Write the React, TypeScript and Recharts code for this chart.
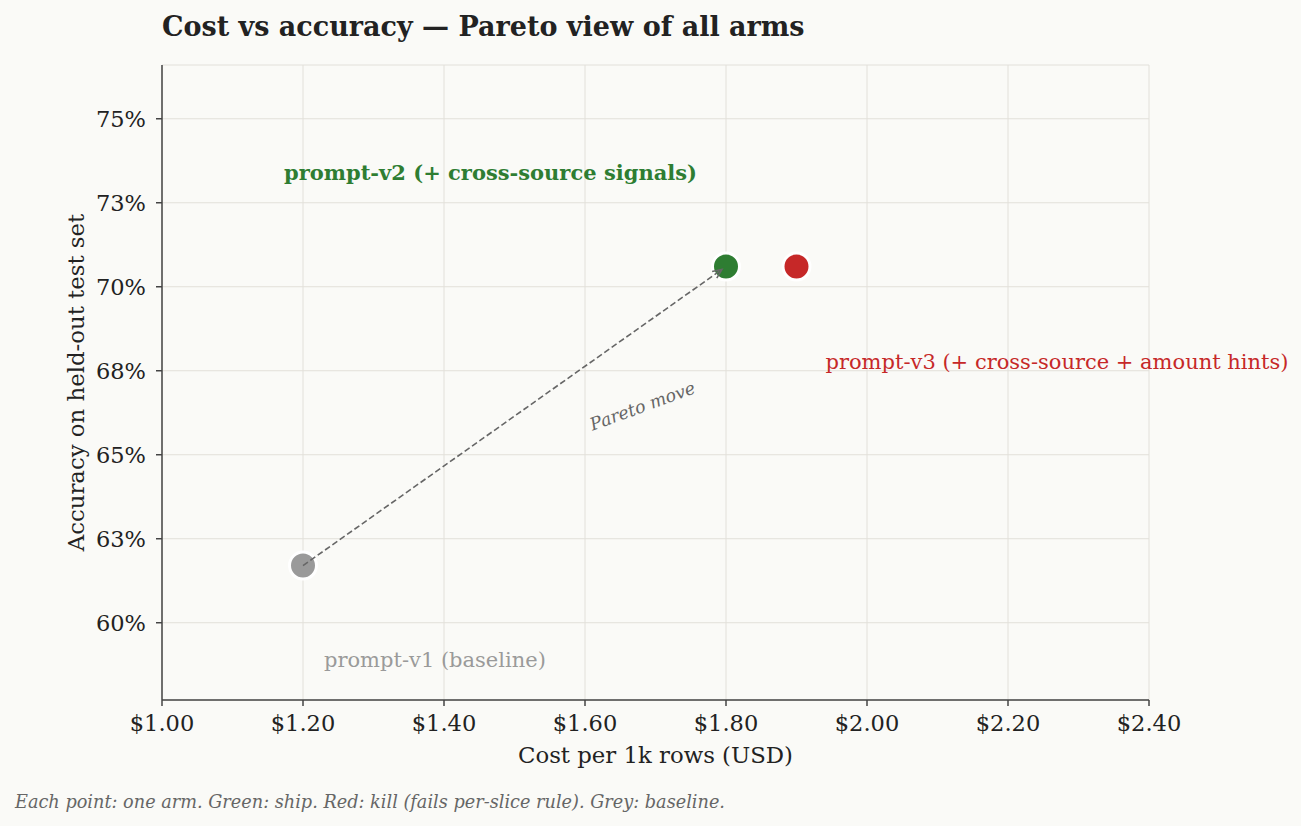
import { ScatterChart, Scatter, XAxis, YAxis, CartesianGrid, Cell, Label } from "recharts";

const ARMS = [
  "prompt-v1 (baseline)",
  "prompt-v2 (+ cross-source signals)",
  "prompt-v3 (+ cross-source + amount hints)",
];
const COST = [1.2, 1.8, 1.9];
const ACCURACY = [61.7, 70.6, 70.6];
const ARM_COLORS = ["#9a9a9a", "#2e7d32", "#c62828"];
const X_TICKS = [1.0, 1.2, 1.4, 1.6, 1.8, 2.0, 2.2, 2.4];
const Y_TICKS = [60, 62.5, 65, 67.5, 70, 72.5, 75];
// the pareto arrow goes baseline -> shipped arm
const PARETO_FROM = 0;
const PARETO_TO = 1;

const FONT = "'DejaVu Serif', serif";
const INK = "#222222";
const MUTED = "#666666";

// where each arm's name sits relative to its dot (px)
const LABEL_LAYOUT = [
  { dx: 21, dy: 94, anchor: "start", weight: "normal" },
  { dx: -29, dy: -94, anchor: "end", weight: "bold" },
  { dx: 29, dy: 95, anchor: "start", weight: "normal" },
];

const rows = ARMS.map((name, i) => ({ name, cost: COST[i], acc: ACCURACY[i], i }));
const arrowRows = [rows[PARETO_FROM], rows[PARETO_TO]];

function ArmDot(props: any) {
  const { cx, cy, payload } = props;
  const i = payload.i;
  const lay = LABEL_LAYOUT[i];
  return (
    <g>
      <circle cx={cx} cy={cy} r={13.5} fill={ARM_COLORS[i]} stroke="#ffffff" strokeWidth={3} />
      <text
        x={cx + lay.dx}
        y={cy + lay.dy}
        textAnchor={lay.anchor}
        dominantBaseline="central"
        fill={ARM_COLORS[i]}
        fontFamily={FONT}
        fontSize={21}
        fontWeight={lay.weight}
      >
        {payload.name}
      </text>
    </g>
  );
}

function ParetoArrow(props: any) {
  const pts = props.points;
  if (!pts || pts.length < 2) return <g />;
  const [a, b] = pts;
  const dx = b.x - a.x;
  const dy = b.y - a.y;
  const len = Math.hypot(dx, dy);
  const ux = dx / len;
  const uy = dy / len;
  const ex = b.x - ux * 5;
  const ey = b.y - uy * 5;
  const head = 10;
  const ang = (24 * Math.PI) / 180;
  const rot = (x: number, y: number, t: number) => [x * Math.cos(t) - y * Math.sin(t), x * Math.sin(t) + y * Math.cos(t)];
  const [h1x, h1y] = rot(-ux, -uy, ang);
  const [h2x, h2y] = rot(-ux, -uy, -ang);
  const tx = (a.x + b.x) / 2 + 128;
  const ty = (a.y + b.y) / 2 - 10;
  return (
    <g>
      <line x1={a.x} y1={a.y} x2={ex} y2={ey} stroke={MUTED} strokeWidth={1.6} strokeDasharray="6 3" />
      <polyline
        points={`${ex + h1x * head},${ey + h1y * head} ${ex},${ey} ${ex + h2x * head},${ey + h2y * head}`}
        fill="none"
        stroke={MUTED}
        strokeWidth={1.6}
      />
      <text
        x={tx}
        y={ty}
        textAnchor="middle"
        dominantBaseline="central"
        transform={`rotate(-20 ${tx} ${ty})`}
        fill={MUTED}
        fontFamily={FONT}
        fontStyle="italic"
        fontSize={17.5}
      >
        Pareto move
      </text>
    </g>
  );
}

const tickStyle = { fontSize: 22.5, fill: INK, fontFamily: FONT };

export default function App() {
  return (
    <div style={{ position: "absolute", left: 0, top: 0, width: 1301, height: 826, background: "#fafaf7", fontFamily: FONT }}>
      <div style={{ position: "absolute", left: 162, top: 10, fontSize: 27, lineHeight: "34px", fontWeight: "bold", color: INK }}>
        Cost vs accuracy — Pareto view of all arms
      </div>
      <ScatterChart width={1301} height={826} margin={{ top: 65, right: 152, left: 82, bottom: 56 }}>
        <CartesianGrid stroke="#e2e0da" strokeWidth={1} />
        <XAxis
          type="number"
          dataKey="cost"
          domain={[1.0, 2.4]}
          ticks={X_TICKS}
          tickFormatter={(v: number) => `$${v.toFixed(2)}`}
          tick={tickStyle}
          tickSize={6}
          tickMargin={9}
          stroke="#444444"
          strokeWidth={1.5}
          height={70}
        >
          <Label
            content={(p: any) => (
              <text
                x={p.viewBox.x + p.viewBox.width / 2}
                y={755}
                textAnchor="middle"
                dominantBaseline="central"
                fill={INK}
                fontFamily={FONT}
                fontSize={22.8}
              >
                Cost per 1k rows (USD)
              </text>
            )}
          />
        </XAxis>
        <YAxis
          type="number"
          dataKey="acc"
          domain={[57.7, 76.6]}
          ticks={Y_TICKS}
          tickFormatter={(v: number) => `${Math.round(v)}%`}
          tick={tickStyle}
          tickSize={6}
          tickMargin={10}
          stroke="#444444"
          strokeWidth={1.5}
          width={80}
        >
          <Label
            content={(p: any) => {
              const cy = p.viewBox.y + p.viewBox.height / 2;
              return (
                <text
                  x={76}
                  y={cy}
                  textAnchor="middle"
                  dominantBaseline="central"
                  transform={`rotate(-90 76 ${cy})`}
                  fill={INK}
                  fontFamily={FONT}
                  fontSize={22.8}
                >
                  Accuracy on held-out test set
                </text>
              );
            }}
          />
        </YAxis>
        <Scatter data={rows} shape={<ArmDot />} isAnimationActive={false}>
          {rows.map((r) => (
            <Cell key={r.name} fill={ARM_COLORS[r.i]} />
          ))}
        </Scatter>
        <Scatter
          data={arrowRows}
          shape={() => <g />}
          line={(p: any) => <ParetoArrow {...p} />}
          lineType="joint"
          isAnimationActive={false}
        />
      </ScatterChart>
      <div style={{ position: "absolute", left: 15, top: 790, fontSize: 17.7, lineHeight: "24px", fontStyle: "italic", color: MUTED }}>
        Each point: one arm. Green: ship. Red: kill (fails per-slice rule). Grey: baseline.
      </div>
    </div>
  );
}
